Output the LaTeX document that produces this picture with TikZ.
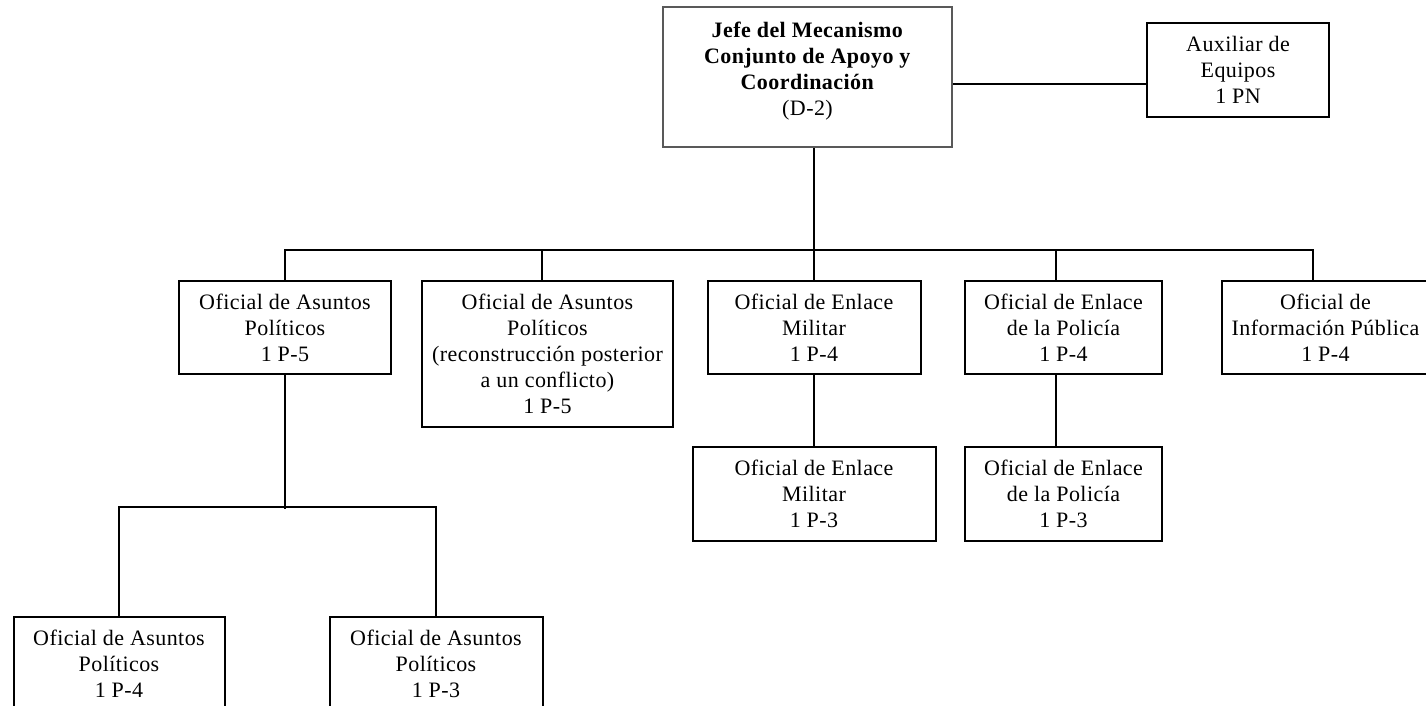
\documentclass[tikz,border=0pt]{standalone}
\usepackage{fontspec}
\setmainfont[LetterSpace=2]{Liberation Serif}
\begin{document}
\begin{tikzpicture}[x=1pt, y=-1pt,
  orgbox/.style={draw, line width=2pt, align=center, inner sep=0pt,
    font=\fontsize{22}{26}\selectfont},
  link/.style={draw, line width=2pt}]
  \useasboundingbox (0,0) rectangle (1426,706);

  % Head and assistant
  \node[orgbox, draw=gray!70!black, line width=2.2pt, minimum width=289pt, minimum height=140pt]
    (head) at (807.5, 77) {\textbf{Jefe del Mecanismo}\\\textbf{Conjunto de Apoyo y}\\
    \textbf{Coordinación}\\(D-2)\\[-10pt]\mbox{}};
  \node[orgbox, minimum width=182pt, minimum height=94pt]
    (aux) at (1238, 70) {Auxiliar de\\Equipos\\1 PN};

  % Second row
  \node[orgbox, minimum width=212pt, minimum height=93pt]
    (pol1) at (285, 327.5) {Oficial de Asuntos\\Políticos\\1 P-5};
  \node[orgbox, minimum width=251pt, minimum height=146pt]
    (pol2) at (547.5, 354) {Oficial de Asuntos\\Políticos\\(reconstrucción posterior\\
    a un conflicto)\\1 P-5};
  \node[orgbox, minimum width=213pt, minimum height=93pt]
    (mil1) at (814, 327.5) {Oficial de Enlace\\Militar\\1 P-4};
  \node[orgbox, minimum width=197pt, minimum height=93pt]
    (pold1) at (1063.5, 327.5) {Oficial de Enlace\\de la Policía\\1 P-4};
  \node[orgbox, minimum width=207pt, minimum height=93pt]
    (info) at (1325.5, 327.5) {Oficial de\\Información Pública\\1 P-4};

  % Third row
  \node[orgbox, minimum width=243pt, minimum height=94pt]
    (mil2) at (814, 494) {Oficial de Enlace\\Militar\\1 P-3};
  \node[orgbox, minimum width=197pt, minimum height=94pt]
    (pold2) at (1063.5, 494) {Oficial de Enlace\\de la Policía\\1 P-3};
  \node[orgbox, minimum width=211pt, minimum height=93pt]
    (ap4) at (119, 663.5) {Oficial de Asuntos\\Políticos\\1 P-4};
  \node[orgbox, minimum width=213pt, minimum height=93pt]
    (ap3) at (436, 663.5) {Oficial de Asuntos\\Políticos\\1 P-3};

  % Connectors
  \draw[link] ([yshift=-7pt]head.east) -- ([yshift=-14pt]aux.west);
  \draw[link] (head.south -| mil1.north) -- (mil1.north);
  \draw[link] (pol1.north) -- ++(0,-30) -| ([xshift=-12.5pt]info.north);
  \draw[link] ([xshift=-5.5pt]pol2.north) -- ++(0,-30);
  \draw[link] ([xshift=-7.5pt]pold1.north) -- ++(0,-30);
  \draw[link] (mil1.south) -- (mil2.north);
  \draw[link] ([xshift=-7.5pt]pold1.south) -- ([xshift=-7.5pt]pold2.north);
  \draw[link] (pol1.south) -- ++(0,134);
  \draw[link] (ap4.north) -- ++(0,-109) -| (ap3.north);
\end{tikzpicture}
\end{document}
